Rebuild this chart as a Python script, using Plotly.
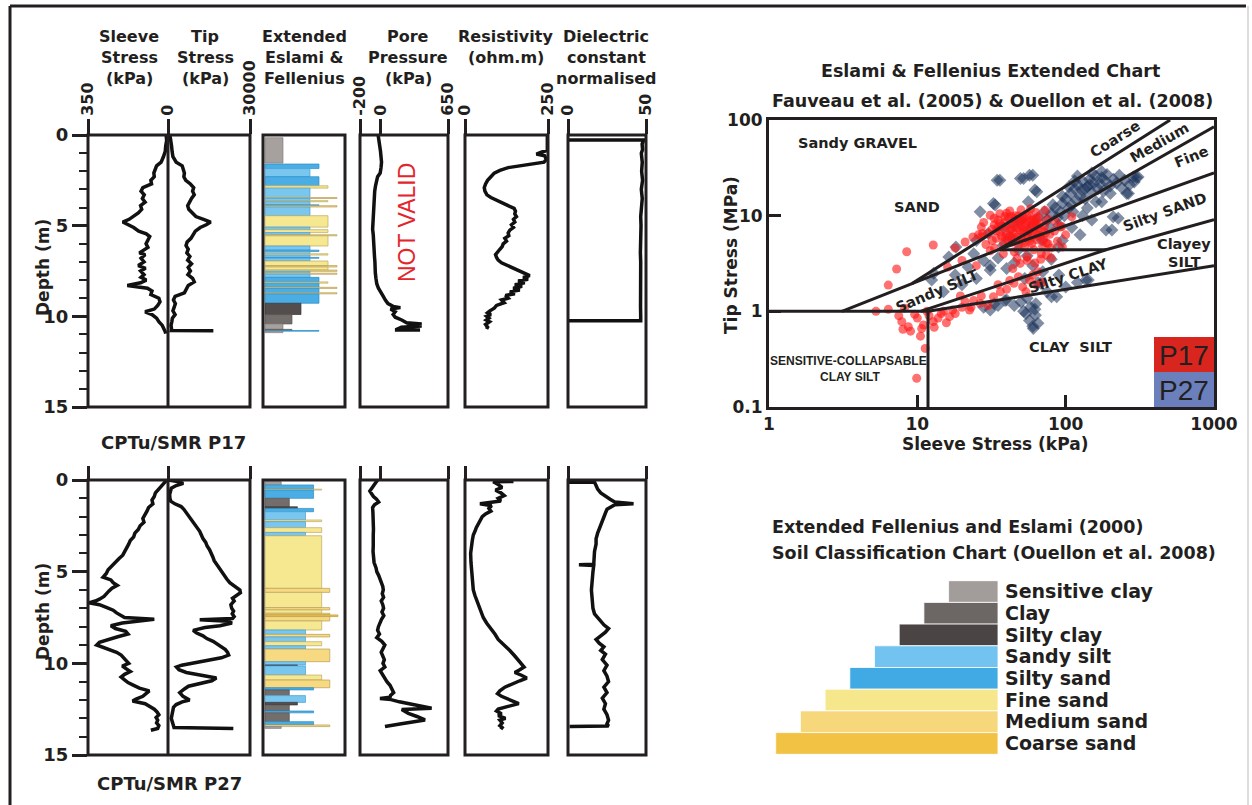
import plotly.graph_objects as go

W, H = 1252, 805
INK = "#231f20"
FONT = "DejaVu Sans"


def px(x):
    return x / W


def py(y):
    return 1 - y / H


# ---------------------------------------------------------------- P17 profiles
p17_sleeve_depth = [0.0, 0.3, 0.6, 0.9, 1.2, 1.5, 1.7, 1.9, 2.1, 2.3, 2.5, 2.7, 2.9, 3.1, 3.3, 3.5, 3.7, 3.9, 4.1,
                    4.3, 4.5, 4.65, 4.8, 4.95, 5.1, 5.3, 5.45, 5.6, 5.8, 6.0, 6.2, 6.4, 6.5, 6.6, 6.8, 7.0, 7.2,
                    7.35, 7.5, 7.7, 7.85, 8.0, 8.15, 8.3, 8.45, 8.6, 8.8, 9.0, 9.2, 9.4, 9.6, 9.75, 9.9, 10.1,
                    10.3, 10.5, 10.7, 10.85, 10.95]
p17_sleeve = [8, 6, 10, 12, 20, 30, 50, 55, 62, 60, 75, 72, 110, 118, 104, 112, 100, 120, 115, 130, 150, 170, 198,
              175, 150, 128, 95, 80, 90, 96, 88, 110, 125, 100, 118, 105, 130, 98, 120, 105, 118, 95, 120, 178, 90,
              70, 75, 40, 35, 45, 60, 100, 70, 50, 40, 25, 15, 12, 10]

p17_tip_depth = [0.0, 0.3, 0.6, 0.9, 1.2, 1.5, 1.7, 1.9, 2.1, 2.3, 2.5, 2.7, 2.9, 3.1, 3.3, 3.5, 3.7, 3.9, 4.1, 4.3,
                 4.5, 4.65, 4.8, 4.95, 5.1, 5.3, 5.5, 5.7, 5.9, 6.1, 6.3, 6.5, 6.7, 6.9, 7.1, 7.3, 7.5, 7.7, 7.9,
                 8.1, 8.3, 8.5, 8.7, 8.9, 9.1, 9.3, 9.5, 9.7, 9.9, 10.1, 10.3, 10.5, 10.7, 10.78, 10.8]
p17_tip = [700, 1100, 1300, 1500, 1800, 3000, 5200, 5600, 6000, 5800, 6500, 8200, 9400, 9000, 9600, 8600, 7800,
           7200, 7600, 8800, 10200, 13000, 15600, 14000, 11800, 10000, 9200, 8400, 7000, 6600, 7400, 6900, 8000,
           7200, 8600, 7400, 8200, 7300, 9000, 9600, 7400, 6600, 6000, 2600, 2000, 2700, 2300, 1800, 2600, 1600,
           1400, 1100, 1300, 1200, 16600]

p17_pore_depth = [0.0, 0.3, 0.6, 0.9, 1.2, 1.5, 1.8, 2.1, 2.3, 2.5, 2.8, 3.1, 3.4, 3.7, 4.0, 4.3, 4.6, 4.9, 5.2, 5.5,
                  5.8, 6.1, 6.4, 6.7, 7.0, 7.3, 7.6, 7.9, 8.2, 8.45, 8.7, 8.9, 9.1, 9.3, 9.45, 9.52, 9.6, 9.75,
                  9.9, 10.05, 10.2, 10.35, 10.42, 10.48, 10.53, 10.6, 10.72, 10.75, 10.75]
p17_pore = [-25, -15, -8, -2, 3, 8, 3, -5, -30, -40, -50, -58, -62, -66, -70, -74, -77, -80, -78, -72, -70, -72,
            -66, -60, -56, -58, -52, -46, -38, -22, 0, 25, 45, 70, 120, 190, 95, 140, 120, 140, 203, 250, 396, 251,
            396, 200, 154, 154, 380]

p17_res_depth = [0.0, 0.85, 0.95, 1.05, 1.15, 1.35, 1.5, 1.6, 1.7, 1.8, 1.95, 2.1, 2.3, 2.5, 2.7, 2.9, 3.1, 3.3,
                 3.45, 3.6, 3.75, 3.9, 4.05, 4.2, 4.35, 4.5, 4.65, 4.8, 4.95, 5.1, 5.25, 5.4, 5.55, 5.7, 5.85, 6.0,
                 6.15, 6.3, 6.45, 6.6, 6.75, 6.9, 7.05, 7.2, 7.35, 7.5, 7.65, 7.75, 7.85, 7.95, 8.05, 8.15, 8.25,
                 8.35, 8.45, 8.55, 8.65, 8.75, 8.85, 9.0, 9.1, 9.25, 9.4, 9.55, 9.7, 9.8, 9.9, 10.0, 10.1, 10.2,
                 10.3, 10.45, 10.6, 10.7]
p17_res = [248, 248, 230, 215, 240, 245, 238, 200, 160, 130, 105, 88, 78, 68, 62, 58, 60, 66, 78, 95, 115, 135, 148,
           152, 150, 155, 146, 150, 140, 146, 135, 130, 132, 120, 125, 115, 112, 105, 100, 92, 95, 100, 110, 128,
           148, 165, 182, 195, 175, 190, 160, 180, 150, 172, 145, 165, 135, 150, 122, 130, 110, 118, 95, 88, 75,
           68, 78, 65, 72, 64, 74, 62, 68, 65]

p17_diel_depth = [0.28, 0.28, 0.5, 0.8, 1.0, 1.5, 2.0, 2.5, 3.0, 3.5, 4.0, 4.5, 5.0, 5.5, 6.0, 6.5, 7.0, 7.5, 8.0,
                  8.5, 9.0, 9.5, 10.0, 10.25, 10.25]
p17_diel = [0, 48.5, 47.5, 47.8, 47.0, 47.6, 47.2, 47.8, 47.0, 47.6, 47.1, 46.6, 46.8, 46.5, 46.7, 46.4, 46.6,
            46.5, 46.6, 46.4, 46.6, 46.5, 46.6, 46.6, 0]

# ---------------------------------------------------------------- P27 profiles
p27_sleeve_depth = [0.0, 0.15, 0.3, 0.5, 0.7, 0.9, 1.1, 1.3, 1.5, 1.7, 1.9, 2.1, 2.3, 2.5, 2.7, 2.9, 3.1, 3.3, 3.5,
                    3.7, 3.9, 4.1, 4.3, 4.5, 4.7, 4.9, 5.1, 5.3, 5.45, 5.6, 5.75, 5.9, 6.05, 6.2, 6.35, 6.5, 6.6,
                    6.7, 6.8, 6.95, 7.1, 7.25, 7.4, 7.5, 7.6, 7.7, 7.8, 7.95, 8.1, 8.25, 8.4, 8.55, 8.7, 8.85, 9.0,
                    9.1, 9.25, 9.4, 9.55, 9.7, 9.85, 10.0, 10.15, 10.3, 10.45, 10.6, 10.75, 10.9, 11.05, 11.2,
                    11.35, 11.5, 11.65, 11.8, 11.95, 12.05, 12.2, 12.35, 12.5, 12.65, 12.8, 12.95, 13.1, 13.25,
                    13.4, 13.55, 13.65]
p27_sleeve = [5, 15, 28, 42, 55, 60, 70, 66, 85, 92, 100, 110, 105, 122, 130, 145, 150, 165, 172, 180, 190, 198, 215,
              230, 245, 262, 270, 284, 250, 240, 222, 245, 258, 268, 280, 300, 318, 347, 300, 270, 240, 225, 205, 190,
              60, 150, 200, 250, 230, 185, 175, 220, 260, 300, 312, 290, 255, 225, 205, 195, 182, 172, 200, 180, 165,
              190, 205, 190, 175, 150, 125, 82, 95, 110, 140, 155, 100, 80, 60, 48, 40, 52, 45, 50, 40, 45, 75]

p27_tip_depth = [0.0, 0.08, 0.18, 0.3, 0.45, 0.6, 0.8, 1.0, 1.15, 1.3, 1.45, 1.6, 1.8, 2.0, 2.2, 2.4, 2.6, 2.8, 3.0,
                 3.2, 3.4, 3.6, 3.8, 4.0, 4.2, 4.4, 4.6, 4.8, 5.0, 5.2, 5.4, 5.6, 5.8, 6.0, 6.15, 6.3, 6.45, 6.6,
                 6.8, 7.0, 7.15, 7.3, 7.45, 7.55, 7.62, 7.7, 7.8, 7.95, 8.05, 8.2, 8.35, 8.5, 8.65, 8.8, 8.95, 9.1,
                 9.25, 9.4, 9.55, 9.7, 9.85, 10.0, 10.1, 10.2, 10.35, 10.5, 10.65, 10.8, 10.95, 11.1, 11.25, 11.4,
                 11.6, 11.8, 12.0, 12.1, 12.25, 12.4, 12.6, 12.8, 13.0, 13.2, 13.35, 13.5, 13.55]
p27_tip = [0, 3500, 5600, 3000, 1200, 800, 600, 700, 1000, 2500, 4800, 5800, 6800, 7900, 8600, 9800, 10800, 11600,
           12200, 12800, 13800, 14300, 15200, 15900, 16400, 16900, 17800, 18600, 19500, 20300, 21500, 22600, 24200,
           26300, 26500, 25100, 23600, 24200, 23000, 23300, 24000, 23500, 24200, 23600, 11600, 22000, 23400, 19000,
           13500, 9200, 10500, 12800, 14200, 16500, 18000, 19500, 21000, 21800, 22200, 19500, 14000, 9500, 5000,
           3100, 4000, 6700, 12000, 17700, 16000, 11500, 7500, 6000, 4300, 5500, 7900, 5200, 3000, 2000, 1700,
           1300, 1200, 1600, 1900, 2200, 23900]

p27_pore_depth = [0.0, 0.15, 0.3, 0.45, 0.6, 0.75, 0.9, 1.05, 1.2, 1.35, 1.5, 1.8, 2.1, 2.4, 2.7, 3.0, 3.3, 3.6, 3.9,
                  4.2, 4.5, 4.8, 5.0, 5.2, 5.4, 5.6, 5.8, 6.0, 6.2, 6.4, 6.6, 6.8, 7.0, 7.2, 7.4, 7.6, 7.8, 8.0,
                  8.2, 8.4, 8.6, 8.8, 9.0, 9.2, 9.4, 9.6, 9.8, 10.0, 10.2, 10.4, 10.6, 10.8, 11.0, 11.2, 11.4, 11.6,
                  11.75, 11.85, 11.92, 11.98, 12.1, 12.3, 12.45, 12.52, 12.73, 12.9, 13.09, 13.3, 13.45]
p27_pore = [-30, -50, -72, -95, -105, -88, -70, -40, -20, -60, -78, -75, -72, -74, -70, -72, -76, -72, -74, -70,
            -64, -45, -38, -20, -5, 10, 20, 25, 15, 28, 5, 20, 28, 12, 30, 8, -10, -22, -30, -12, -38, 10, 40, 22,
            5, 20, 35, 22, 40, -5, 15, 40, 60, 90, 110, 125, 95, 90, -7, 100, 180, 350, 492, 203, 267, 350, 428,
            200, 41]

p27_res_depth = [0.08, 0.1, 0.25, 0.4, 0.55, 0.7, 0.85, 1.0, 1.15, 1.3, 1.4, 1.55, 1.7, 1.85, 2.0, 2.2, 2.4, 2.6,
                 2.8, 3.0, 3.3, 3.6, 4.0, 4.5, 5.0, 5.5, 6.0, 6.3, 6.6, 6.9, 7.2, 7.5, 7.8, 8.1, 8.4, 8.7, 9.0,
                 9.3, 9.6, 9.8, 10.0, 10.2, 10.35, 10.5, 10.65, 10.8, 10.95, 11.1, 11.3, 11.5, 11.65, 11.8, 11.95,
                 12.1, 12.2, 12.35, 12.5, 12.6, 12.75, 12.85, 13.0, 13.1, 13.25, 13.4, 13.5, 13.6]
p27_res = [146, 85, 100, 112, 92, 108, 118, 100, 108, 45, 80, 72, 78, 62, 52, 45, 38, 34, 30, 25, 22, 19, 17, 18,
           20, 22, 25, 30, 36, 42, 48, 55, 65, 78, 90, 100, 118, 135, 150, 160, 168, 178, 165, 150, 170, 186, 165,
           145, 120, 105, 98, 110, 128, 150, 162, 130, 100, 95, 110, 100, 122, 105, 112, 105, 112, 108]

p27_diel_depth = [0.12, 0.12, 0.3, 0.5, 0.7, 0.9, 1.05, 1.2, 1.3, 1.35, 1.45, 1.6, 1.8, 2.0, 2.3, 2.6, 2.9, 3.2, 3.5,
                  3.9, 4.3, 4.6, 4.62, 4.66, 5.0, 5.5, 6.0, 6.5, 7.0, 7.3, 7.6, 7.9, 8.1, 8.3, 8.5, 8.7, 8.9, 9.1,
                  9.3, 9.5, 9.8, 10.1, 10.4, 10.7, 11.0, 11.3, 11.6, 11.9, 12.2, 12.5, 12.8, 13.1, 13.3, 13.42,
                  13.45]
p27_diel = [0, 17, 18, 19, 21, 24, 27, 30, 42, 30, 28, 25, 24, 23, 22, 20, 19, 18, 18, 17, 17, 16.5, 7, 16.5, 16,
            15.5, 15, 15.5, 16, 17, 20, 23, 26, 24, 21, 18, 20, 23, 21, 24, 22, 25, 23, 25, 26, 23, 25, 22, 24, 23,
            25, 26, 25, 26, 1]

# ------------------------------------------- Extended Eslami & Fellenius classes
# codes: 1 sensitive clay, 2 clay, 3 silty clay, 4 sandy silt, 5 silty sand,
#        6 fine sand, 7 medium sand, 8 coarse sand
p17_class_top = [0.15, 1.6, 1.85, 2.3, 2.8, 2.93, 3.45, 3.5, 3.62, 3.68, 3.85, 3.9, 3.97, 4.45, 5.08, 5.22, 5.38,
                 5.5, 5.56, 6.12, 6.35, 6.42, 6.55, 6.62, 6.75, 6.8, 6.95, 7.2, 7.28, 7.45, 7.52, 7.62, 7.68, 7.85,
                 8.1, 8.17, 8.4, 8.46, 8.7, 8.76, 9.28, 9.9, 10.42, 10.72, 10.78, 10.82]
p17_class_bot = [1.55, 1.85, 2.3, 2.8, 2.93, 3.45, 3.5, 3.62, 3.68, 3.85, 3.9, 3.97, 4.45, 5.08, 5.22, 5.38, 5.5,
                 5.56, 6.12, 6.35, 6.42, 6.55, 6.62, 6.75, 6.8, 6.95, 7.2, 7.28, 7.45, 7.52, 7.62, 7.68, 7.85, 8.1,
                 8.17, 8.4, 8.46, 8.7, 8.76, 9.28, 9.9, 10.42, 10.72, 10.78, 10.82, 10.9]
p17_class_code = [1, 5, 4, 5, 6, 4, 7, 4, 6, 4, 5, 7, 4, 6, 4, 6, 4, 7, 6, 4, 5, 4, 6, 4, 5, 4, 6, 7, 6, 7, 4, 7, 4,
                  5, 6, 5, 7, 5, 7, 5, 3, 2, 1, 2, 5, 1]

p27_class_top = [0.09, 0.27, 0.5, 0.55, 1.0, 1.46, 1.55, 1.73, 2.18, 2.27, 2.6, 2.86, 3.04, 5.91, 6.13, 6.96, 7.09,
                 7.27, 7.36, 7.45, 7.69, 8.18, 8.42, 8.56, 8.82, 9.04, 9.22, 9.91, 10.09, 10.14, 10.64, 10.91, 11.33,
                 11.45, 11.76, 12.13, 12.27, 12.6, 12.7, 13.18, 13.36, 13.45]
p27_class_bot = [0.27, 0.5, 0.55, 1.0, 1.46, 1.55, 1.73, 2.18, 2.27, 2.6, 2.86, 3.04, 5.91, 6.13, 6.96, 7.09, 7.27,
                 7.36, 7.45, 7.69, 8.18, 8.42, 8.56, 8.82, 9.04, 9.22, 9.91, 10.09, 10.14, 10.64, 10.91, 11.33, 11.45,
                 11.76, 12.13, 12.27, 12.6, 12.7, 13.18, 13.36, 13.45, 13.55]
p27_class_code = [1, 5, 6, 5, 2, 3, 5, 4, 6, 4, 6, 4, 6, 7, 6, 7, 6, 7, 8, 7, 6, 4, 7, 4, 6, 4, 7, 4, 3, 4, 6, 7, 5,
                  2, 4, 3, 2, 5, 2, 5, 7, 1]

class_labels = ["Sensitive clay", "Clay", "Silty clay", "Sandy silt", "Silty sand", "Fine sand", "Medium sand",
                "Coarse sand"]
class_codes = [1, 2, 3, 4, 5, 6, 7, 8]
class_colors = {1: "#a29c9a", 2: "#6c6664", 3: "#4a4444", 4: "#72c3ef", 5: "#41aae4", 6: "#f6e68c", 7: "#f6d77b",
                8: "#f1c243"}
class_edges = {1: "#7d7877", 2: "#4f4a49", 3: "#2f2a2a", 4: "#3f9ed6", 5: "#1f86c4", 6: "#b9a55a", 7: "#b39a4f",
               8: "#b88f20"}

# --------------------------------------------------------- scatter (fs kPa, qt MPa)
p17_points = [
    (30, 6.5), (32, 7.2), (33, 8.0), (34, 5.8), (35, 9.0), (36, 6.8), (37, 7.8), (38, 5.2), (39, 8.6), (40, 6.2),
    (41, 9.5), (42, 7.0), (43, 5.6), (44, 8.2), (45, 6.6), (46, 10.0), (47, 7.4), (48, 5.0), (49, 8.8), (50, 6.0),
    (51, 9.2), (52, 7.1), (53, 4.6), (54, 8.0), (55, 6.4), (56, 10.5), (57, 5.4), (58, 7.6), (59, 9.0), (60, 6.1),
    (61, 4.4), (62, 8.4), (64, 5.6), (65, 7.2), (66, 9.6), (68, 6.0), (70, 4.8), (72, 7.8), (74, 5.2), (76, 9.2),
    (78, 6.4), (80, 4.6), (84, 6.9), (88, 5.4), (92, 7.6), (95, 4.7), (28, 8.5), (29, 5.0), (31, 4.3), (36, 10.5),
    (42, 11.2), (50, 11.5), (58, 11.8), (63, 10.8), (27, 6.0), (33, 4.6), (38, 4.0), (45, 4.2), (52, 5.2),
    (47, 3.6), (55, 3.4), (62, 3.2), (68, 3.5), (74, 3.9), (80, 3.6), (34, 7.0), (40, 7.5), (46, 8.6), (52, 9.6),
    (44, 5.3), (50, 7.8), (56, 8.7), (39, 6.0), (61, 6.8), (43, 9.8),
    (35, 7.6), (37, 6.1), (39, 9.8), (41, 5.5), (43, 7.3), (45, 9.3), (47, 6.0), (49, 7.1), (51, 5.5), (53, 8.4),
    (55, 9.9), (57, 6.9), (59, 5.1), (61, 7.6), (63, 9.4), (65, 6.3), (67, 8.3), (69, 7.0), (71, 5.6), (73, 6.6),
    (32, 5.5), (36, 8.3), (40, 10.6), (44, 6.0), (48, 9.9), (52, 6.6), (56, 5.8), (60, 9.0), (64, 7.9), (33, 9.4),
    (17.3, 1.03), (22.5, 1.03), (26.5, 1.21), (32.6, 1.42), (36.3, 1.6), (44.8, 1.96), (51.3, 1.8), (57, 2.12),
    (65, 2.6), (40, 1.7), (48, 2.3), (60, 2.4), (24, 1.3), (30, 1.15), (20, 1.1), (70, 2.0), (54, 1.6), (35, 1.9),
    (42, 2.1), (63, 1.9),
    (5.26, 1.0), (6.37, 1.05), (7.86, 0.78), (8.7, 0.69), (10.7, 0.66), (12.8, 0.78), (13.8, 0.85), (15.7, 0.76),
    (11.3, 0.41), (9.9, 0.2), (8.2, 1.08), (9.6, 0.93), (11.6, 1.0), (21, 1.26), (23, 1.1), (27, 1.45),
    (19.5, 1.45), (9, 0.62), (10, 0.85), (12, 0.9), (14.5, 0.95), (16.5, 0.88), (8.0, 0.65), (11, 0.72),
    (13, 0.68), (10.5, 0.55), (7.5, 0.9), (15, 1.0), (18, 0.95),
    (8.48, 4.2), (12.8, 4.93), (7.25, 2.77), (6.37, 1.88), (25.8, 6.3), (27.5, 6.5), (21, 5.3), (31, 10.1),
    (23.7, 6.0), (27, 7.6), (94, 7.7), (110, 9.75), (72.5, 11.4), (76, 5.1), (68.5, 4.0), (55, 3.7), (49.3, 3.17),
    (44, 2.8), (20, 3.4), (16, 2.9), (18, 4.6), (25, 3.0), (100, 6.3), (85, 8.8),
]
p27_points = [
    (34.5, 23.5), (49.5, 24.5), (57, 26.5), (62, 18.5), (32.6, 13.4), (26.5, 11), (52, 24.5), (60, 26.5),
    (36, 23.5), (63.9, 17.8), (56, 14), (33.5, 12.9), (69, 5.56), (175, 14), (205, 7.1), (226, 9.4), (265, 17.1),
    (308, 25.4), (125, 6.3), (89.5, 4.7),
    (75, 9), (80, 10.5), (85, 12), (88, 9.5), (92, 11), (95, 13.5), (98, 10), (100, 15), (105, 12), (108, 17),
    (110, 13), (115, 19), (118, 14.5), (120, 21), (125, 16), (128, 18.5), (130, 23), (135, 15), (140, 20),
    (145, 24), (150, 17.5), (155, 22), (160, 26), (165, 19), (170, 21.5), (175, 25), (180, 18), (185, 23),
    (190, 27), (200, 20.5), (210, 24), (220, 22), (230, 26.5), (240, 19.5), (250, 23.5), (270, 21), (290, 22.5),
    (300, 25), (140, 12), (160, 14), (200, 17), (112, 11), (130, 10), (90, 8), (78, 7.5), (82, 13), (72, 11),
    (65, 9.5), (60, 8), (150, 28), (175, 29), (120, 26), (105, 20), (135, 19), (95, 16), (115, 23), (145, 21),
    (18.2, 4.7), (16.3, 3.7), (12.5, 2.12), (12.9, 2.5), (31, 2.7), (31, 3.0), (40, 2.8), (45, 3.2), (53, 2.2),
    (60, 3.0), (70, 2.6), (80, 3.5), (90, 2.4), (65, 2.0), (55, 3.8), (48, 4.4), (38, 4.9), (28, 3.4), (24, 4.0),
    (22, 2.9), (18, 2.4), (15, 1.6), (20, 1.9), (25, 2.2), (35, 3.6),
    (31, 1.03), (33, 1.2), (40, 1.31), (68, 1.97), (80.3, 1.42), (137, 2.12), (87, 1.42), (142, 2.12), (28, 1.1),
    (39, 1.3), (55, 1.37), (58, 1.1), (62.5, 0.91), (60.5, 0.66), (57, 0.8), (63, 1.2), (52, 1.0), (50, 1.25),
    (65, 0.75), (60, 0.7), (54, 0.95), (62, 1.05), (35, 1.15), (45, 1.15), (75, 1.6), (100, 1.8), (120, 2.0),
    (187, 7.1), (209, 9.75), (258, 17.1), (286, 25.4), (30, 6.5), (25, 5.5), (38, 7.5), (45, 8), (42, 6),
    (50, 9), (56, 7), (95, 5.5), (110, 7.5), (150, 9),
]
p17_fs = [p[0] for p in p17_points]
p17_qt = [p[1] for p in p17_points]
p27_fs = [p[0] for p in p27_points]
p27_qt = [p[1] for p in p27_points]

# zone boundaries of the extended chart (segments separated by None)
bound_fs = [1, 11.8, None, 3.1, 9.2, 506, None, 9.2, 35, 1000, None, 35, 1000, None, 35, 187, None,
            10.5, 187, 1000, None, 11.8, 1000, None, 11.8, 11.8]
bound_qt = [1, 1, None, 1, 1.95, 100, None, 1.95, 4.4, 28, None, 4.4, 85, None, 4.4, 4.4, None,
            1, 4.4, 9.1, None, 1, 3.0, None, 1, 0.1]

# ------------------------------------------------------------------- figure
fig = go.Figure()
layout = dict(template="none", width=W, height=H, autosize=False,
              margin=dict(l=0, r=0, t=0, b=0, pad=0, autoexpand=False), paper_bgcolor="white",
              plot_bgcolor="rgba(0,0,0,0)", showlegend=False, barmode="overlay",
              font=dict(family=FONT, color=INK))

panels = [  # key, left px, right px, tickvals, ticktext
    ("sleeve", 88, 168, [350, 0], ["350", "0"]),
    ("tip", 168, 250, [30000], ["30000"]),
    ("class", 263, 345, [], []),
    ("pore", 360, 448, [-200, 0, 650], ["-200", "0", "650"]),
    ("res", 465, 548, [0, 250], ["0", "250"]),
    ("diel", 568, 646, [0, 50], ["0", "50"]),
]
ranges = {"sleeve": [350, 0], "tip": [0, 30000], "pore": [-200, 650], "res": [0, 250], "diel": [0, 50]}
class_ranges = [[-0.22, 8.89], [-0.25, 9.88]]
rows = [(135, 407, True, 15), (480, 755, False, 13)]

tickfont = dict(family=FONT, size=16, color=INK, weight="bold")
shapes = []
for r, (ytop, ybot, labels, tlen) in enumerate(rows):
    yname = "yaxis" if r == 0 else "yaxis2"
    yid = "y" if r == 0 else "y2"
    first_x = "x" if r == 0 else "x7"
    layout[yname] = dict(domain=[py(ybot), py(ytop)], range=[15, 0], anchor=first_x, side="left",
                         tickvals=[0, 5, 10, 15], ticks="outside", ticklen=15, tickwidth=3, tickcolor=INK,
                         tickfont=dict(family=FONT, size=18, color=INK, weight="bold"),
                         minor=dict(ticks="outside", dtick=1, tick0=0, ticklen=8, tickwidth=2, tickcolor=INK,
                                    showgrid=False),
                         showgrid=False, zeroline=False, showline=False, automargin=False)
    for i, (key, x0, x1, tv, tt) in enumerate(panels):
        n = r * 6 + i + 1
        xname = "xaxis" if n == 1 else f"xaxis{n}"
        ax = dict(domain=[px(x0), px(x1)], anchor=yid, side="top", showgrid=False, zeroline=False,
                  showline=False, automargin=False)
        if key == "class":
            ax.update(range=class_ranges[r], showticklabels=False, ticks="")
        else:
            ax.update(range=ranges[key], tickvals=tv, ticktext=tt, ticks="outside", ticklen=tlen, tickwidth=3,
                      tickcolor=INK, tickangle=-90, tickfont=tickfont, showticklabels=labels)
        layout[xname] = ax
    for (x0, x1) in [(88, 250), (263, 345), (360, 448), (465, 548), (568, 646)]:
        shapes.append(dict(type="rect", xref="paper", yref="paper", x0=px(x0), x1=px(x1), y0=py(ybot),
                           y1=py(ytop), line=dict(color=INK, width=3), layer="above"))
    # zero line shared by sleeve and tip stress
    shapes.append(dict(type="line", xref="paper", yref="paper", x0=px(168), x1=px(168), y0=py(ybot),
                       y1=py(ytop), line=dict(color=INK, width=3), layer="above"))

line_style = dict(color="#111111", width=3.5)
profiles = [
    [(p17_sleeve, p17_sleeve_depth), (p17_tip, p17_tip_depth), None, (p17_pore, p17_pore_depth),
     (p17_res, p17_res_depth), (p17_diel, p17_diel_depth)],
    [(p27_sleeve, p27_sleeve_depth), (p27_tip, p27_tip_depth), None, (p27_pore, p27_pore_depth),
     (p27_res, p27_res_depth), (p27_diel, p27_diel_depth)],
]
class_data = [(p17_class_top, p17_class_bot, p17_class_code), (p27_class_top, p27_class_bot, p27_class_code)]

for r in range(2):
    yid = "y" if r == 0 else "y2"
    for i in range(6):
        n = r * 6 + i + 1
        xid = "x" if n == 1 else f"x{n}"
        if i == 2:
            tops, bots, codes = class_data[r]
            fig.add_trace(go.Bar(
                orientation="h", y=[(t + b) / 2 for t, b in zip(tops, bots)],
                width=[b - t for t, b in zip(tops, bots)],
                x=[c + 1 for c in codes], base=0, xaxis=xid, yaxis=yid,
                marker=dict(color=[class_colors[c] for c in codes],
                            line=dict(color=[class_edges[c] for c in codes], width=0.7)),
                opacity=0.95))
        else:
            xv, yv = profiles[r][i]
            fig.add_trace(go.Scatter(x=xv, y=yv, mode="lines", line=line_style, xaxis=xid, yaxis=yid))

# ---- scatter chart
SX0, SX1, SY0, SY1 = 769, 1214, 120, 407
layout["xaxis13"] = dict(domain=[px(SX0), px(SX1)], anchor="y3", type="log", range=[0, 3],
                         tickvals=[1, 10, 100, 1000], ticktext=["1", "10", "100", "1000"], ticks="inside",
                         ticklen=12, tickwidth=3, tickcolor=INK, showline=True, mirror=True, linewidth=3,
                         linecolor=INK, showgrid=False, zeroline=False, automargin=False,
                         tickfont=dict(family=FONT, size=17, color=INK, weight="bold"))
layout["yaxis3"] = dict(domain=[py(SY1), py(SY0)], anchor="x13", type="log", range=[-1, 2],
                        tickvals=[0.1, 1, 10, 100], ticktext=["0.1", "1", "10", "100"], ticks="inside",
                        ticklen=12, tickwidth=3, tickcolor=INK, showline=True, mirror=True, linewidth=3,
                        linecolor=INK, showgrid=False, zeroline=False, automargin=False,
                        tickfont=dict(family=FONT, size=17, color=INK, weight="bold"))
fig.add_trace(go.Scatter(x=p27_fs, y=p27_qt, mode="markers", xaxis="x13", yaxis="y3",
                         marker=dict(symbol="diamond", size=10, color="rgba(25,50,90,0.55)", line=dict(width=0))))
fig.add_trace(go.Scatter(x=p17_fs, y=p17_qt, mode="markers", xaxis="x13", yaxis="y3",
                         marker=dict(symbol="circle", size=9, color="rgba(255,25,25,0.62)", line=dict(width=0))))
fig.add_trace(go.Scatter(x=bound_fs, y=bound_qt, mode="lines", xaxis="x13", yaxis="y3",
                         line=dict(color=INK, width=3), connectgaps=False))
shapes.append(dict(type="rect", xref="paper", yref="paper", x0=px(1154), x1=px(SX1), y0=py(372), y1=py(337),
                   fillcolor="#d8261f", line=dict(width=0), layer="above"))
shapes.append(dict(type="rect", xref="paper", yref="paper", x0=px(1154), x1=px(SX1), y0=py(SY1), y1=py(372),
                   fillcolor="#6a7fbb", line=dict(width=0), layer="above"))

# ---- classification legend (stair)
layout["xaxis14"] = dict(domain=[px(771), px(998)], anchor="y4", range=[-9.19, 0], visible=False,
                         automargin=False)
layout["yaxis4"] = dict(domain=[py(754.3), py(580.7)], anchor="x14", type="category", categoryorder="array",
                        categoryarray=class_labels, autorange="reversed", side="right", ticks="",
                        tickmode="array", tickvals=class_labels, ticktext=class_labels,
                        showline=False, showgrid=False, zeroline=False, ticklabelstandoff=6, automargin=False,
                        tickfont=dict(family=FONT, size=19, color=INK, weight="bold"))
fig.add_trace(go.Bar(orientation="h", y=class_labels, x=[-(c + 1) for c in class_codes], base=0, width=1,
                     xaxis="x14", yaxis="y4",
                     marker=dict(color=[class_colors[c] for c in class_codes],
                                 line=dict(color="rgba(255,255,255,0.8)", width=1))))

# ---- outer frame
shapes.append(dict(type="line", xref="paper", yref="paper", x0=px(10), x1=px(1246), y0=py(6), y1=py(6),
                   line=dict(color=INK, width=3)))
shapes.append(dict(type="line", xref="paper", yref="paper", x0=px(10), x1=px(10), y0=py(6), y1=0,
                   line=dict(color=INK, width=3)))
shapes.append(dict(type="line", xref="paper", yref="paper", x0=px(1248), x1=px(1248), y0=py(6), y1=0,
                   line=dict(color="#dddddd", width=2)))

# ---- texts
ann = []


def txt(x, y, s, size, bold=True, color=INK, angle=0, xanchor="center", family=FONT):
    ann.append(dict(x=px(x), y=py(y), xref="paper", yref="paper", text=s, showarrow=False, textangle=angle,
                    xanchor=xanchor, yanchor="middle",
                    font=dict(family=family, size=size, color=color, weight="bold" if bold else "normal")))


headers = [
    (129, ["Sleeve", "Stress", "(kPa)"]),
    (205, ["Tip", "Stress", "(kPa)"]),
    (304, ["Extended", "Eslami &", "Fellenius"]),
    (408, ["Pore", "Pressure", "(kPa)"]),
    (506, ["Resistivity", "(ohm.m)"]),
    (606, ["Dielectric", "constant", "normalised"]),
]
for xc, lines in headers:
    for k, s in enumerate(lines):
        txt(xc, 36 + 21.5 * k, s, 16)

txt(43, 268, "Depth (m)", 17, angle=-90)
txt(43, 612, "Depth (m)", 17, angle=-90)
txt(173, 442, "CPTu/SMR P17", 18)
txt(170, 783, "CPTu/SMR P27", 18)
txt(407, 222, "NOT VALID", 23, bold=False, color="#e3262b", angle=-90, family="Liberation Sans")

txt(990, 71, "Eslami & Fellenius Extended Chart", 17.5)
txt(992, 101, "Fauveau et al. (2005) & Ouellon et al. (2008)", 17.5)
txt(731, 255, "Tip Stress (MPa)", 17, angle=-90)
txt(995, 444, "Sleeve Stress (kPa)", 17)

txt(857, 143, "Sandy GRAVEL", 14.5)
txt(917, 207, "SAND", 14.5)
txt(937, 291, "Sandy SILT", 14.5, angle=-23)
txt(1068, 276, "Silty CLAY", 14.5, angle=-18)
txt(1165, 212, "Silty SAND", 14.5, angle=-20)
txt(1191, 157, "Fine", 14.5, angle=-22)
txt(1159, 143, "Medium", 14.5, angle=-30)
txt(1115, 139, "Coarse", 14.5, angle=-32)
txt(1184, 244, "Clayey", 14.5)
txt(1184, 262, "SILT", 14.5)
txt(1070, 347, "CLAY  SILT", 14.5)
txt(848, 361, "SENSITIVE-COLLAPSABLE", 12, family="Liberation Sans")
txt(850, 377, "CLAY SILT", 12, family="Liberation Sans")
txt(1184, 355, "P17", 28, bold=False, family="Liberation Sans")
txt(1184, 390, "P27", 28, bold=False, family="Liberation Sans")

txt(770, 527, "Extended Fellenius and Eslami (2000)", 17.5, xanchor="left")
txt(770, 553, "Soil Classification Chart (Ouellon et al. 2008)", 17.5, xanchor="left")

layout["shapes"] = shapes
layout["annotations"] = ann
fig.update_layout(**layout)
fig.write_html("out.html", post_script="document.body.style.margin='0';document.body.style.overflow='hidden';")
